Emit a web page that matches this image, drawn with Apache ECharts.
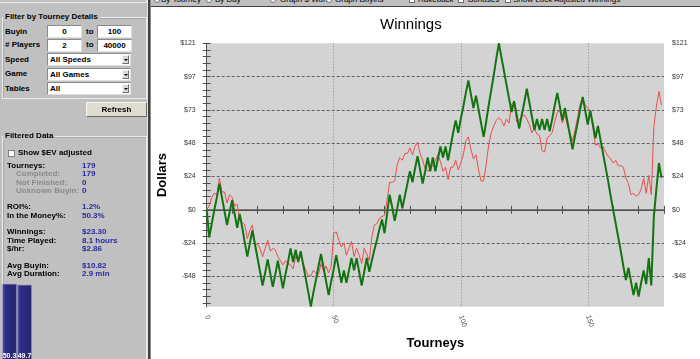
<!DOCTYPE html>
<html>
<head>
<meta charset="utf-8">
<script src="https://cdn.jsdelivr.net/npm/echarts@6/dist/echarts.min.js"></script>
<style>
  html, body { margin:0; padding:0; width:700px; height:359px; overflow:hidden; background:#fff; }
  #chart { position:absolute; left:0; top:0; width:700px; height:359px; z-index:1; }
  #panel { position:absolute; left:0; top:0; width:147px; height:359px; background:#c0c0c0; z-index:2;
           font-family:"Liberation Sans", Arial, sans-serif; font-size:8px; font-weight:bold; color:#000; }
  #panel div, #panel span { position:absolute; white-space:nowrap; }
  .lbl { line-height:10px; height:10px; }
  .gray { color:#8a8a8a; }
  .val { color:#2a2aa0; }
  .box { background:#fff; border:1px solid #8a8a8a; border-right-color:#e0e0e0; border-bottom-color:#e0e0e0; box-sizing:border-box; text-align:center; line-height:11px; }
  .combo { background:#fff; border:1px solid #8a8a8a; border-right-color:#e0e0e0; border-bottom-color:#e0e0e0; box-sizing:border-box; line-height:11px; padding-left:2px; }
  .drop { right:1px; top:1px; width:7px; height:9px; background:#d8d8d8; border:1px solid #f4f4f4; border-right-color:#707070; border-bottom-color:#707070; box-sizing:border-box; }
  .drop::after { content:""; position:absolute; left:1px; top:3px; border-left:2px solid transparent; border-right:2px solid transparent; border-top:2px solid #000; }
  .group { border:1px solid #eaeaea; box-shadow: inset 1px 1px 0 #a8a8a8; box-sizing:border-box; }
  .gtitle { background:#c0c0c0; padding:0 2px; line-height:10px; }
  #splitter { position:absolute; left:147px; top:0; width:4px; height:359px; z-index:3;
              background:linear-gradient(to right, #e4e4e4 0 1px, #404040 1px 3px, #8c8c8c 3px 4px); }
  #topbar { position:absolute; left:151px; top:0; width:549px; height:6px; background:#c0c0c0; border-bottom:1px solid #404040; overflow:hidden; z-index:3;
            font-family:"Liberation Sans", Arial, sans-serif; font-size:8px; color:#000; }
  #topbar span { position:absolute; top:-5px; line-height:10px; white-space:nowrap; }
  #topbar .radio { width:6px; height:6px; border-radius:50%; background:#fff; border:1px solid #707070; top:-3px; box-sizing:border-box; }
  #topbar .chk { width:6px; height:6px; background:#fff; border:1px solid #707070; top:-3px; box-sizing:border-box; }
  #mini { position:absolute; left:1px; top:283px; width:32px; height:77px; z-index:4; }
</style>
</head>
<body>
<div id="chart"></div>
<div id="splitter"></div>
<div id="topbar">
  <span class="radio" style="left:3px"></span><span style="left:10px">By Tourney</span>
  <span class="radio" style="left:55px"></span><span style="left:64px">By Day</span>
  <span class="radio" style="left:119px;background:#fff"></span><span style="left:129px">Graph $ Won</span>
  <span class="radio" style="left:175px"></span><span style="left:184px">Graph Buyins</span>
  <span class="chk" style="left:258px"></span><span style="left:267px">Rakeback</span>
  <span class="chk" style="left:307px"></span><span style="left:317px">Bonuses</span>
  <span class="chk" style="left:354px"></span><span style="left:362px">Show Luck Adjusted Winnings</span>
</div>
<div id="panel">
  <div style="left:0;top:0;width:147px;height:3px;border-bottom:1px solid #eaeaea;border-right:1px solid #eaeaea;box-sizing:border-box;"></div>

  <div class="group" style="left:2px;top:17px;width:145px;height:82px;"></div>
  <div class="gtitle" style="left:3px;top:12px;">Filter by Tourney Details</div>
  <div class="lbl" style="left:5px;top:27px;">Buyin</div>
  <div class="box" style="left:47px;top:25px;width:35px;height:13px;">0</div>
  <div class="lbl" style="left:86px;top:27px;">to</div>
  <div class="box" style="left:97px;top:25px;width:35px;height:13px;">100</div>
  <div class="lbl" style="left:5px;top:40px;"># Players</div>
  <div class="box" style="left:47px;top:39px;width:35px;height:13px;">2</div>
  <div class="lbl" style="left:86px;top:40px;">to</div>
  <div class="box" style="left:97px;top:39px;width:35px;height:13px;">40000</div>
  <div class="lbl" style="left:5px;top:55px;">Speed</div>
  <div class="combo" style="left:47px;top:53px;width:84px;height:13px;">All Speeds<div class="drop"></div></div>
  <div class="lbl" style="left:5px;top:69px;">Game</div>
  <div class="combo" style="left:47px;top:68px;width:84px;height:13px;">All Games<div class="drop"></div></div>
  <div class="lbl" style="left:5px;top:84px;">Tables</div>
  <div class="combo" style="left:47px;top:82px;width:84px;height:13px;">All<div class="drop"></div></div>
  <div style="left:86px;top:102px;width:61px;height:15px;background:#dedbd0;border:1px solid #f8f8f0;border-right-color:#6a6a60;border-bottom-color:#6a6a60;box-sizing:border-box;text-align:center;line-height:13px;">Refresh</div>

  <div class="group" style="left:2px;top:136px;width:145px;height:240px;"></div>
  <div class="gtitle" style="left:3px;top:131px;">Filtered Data</div>
  <div style="left:8px;top:150px;width:7px;height:7px;background:#fff;border:1px solid #808080;box-sizing:border-box;"></div>
  <div class="lbl" style="left:18px;top:148px;">Show $EV adjusted</div>

  <div class="lbl" style="left:7px;top:161px;">Tourneys:</div><div class="lbl val" style="left:82px;top:161px;">179</div>
  <div class="lbl gray" style="left:16px;top:169px;">Completed:</div><div class="lbl val" style="left:82px;top:169px;">179</div>
  <div class="lbl gray" style="left:16px;top:178px;">Not Finished:</div><div class="lbl val" style="left:82px;top:178px;">0</div>
  <div class="lbl gray" style="left:16px;top:186px;">Unknown Buyin:</div><div class="lbl val" style="left:82px;top:186px;">0</div>

  <div class="lbl" style="left:7px;top:202px;">ROI%:</div><div class="lbl val" style="left:82px;top:202px;">1.2%</div>
  <div class="lbl" style="left:7px;top:211px;">In the Money%:</div><div class="lbl val" style="left:82px;top:211px;">50.3%</div>

  <div class="lbl" style="left:7px;top:227px;">Winnings:</div><div class="lbl val" style="left:82px;top:227px;">$23.30</div>
  <div class="lbl" style="left:7px;top:236px;">Time Played:</div><div class="lbl val" style="left:82px;top:236px;">8.1 hours</div>
  <div class="lbl" style="left:7px;top:244px;">$/hr:</div><div class="lbl val" style="left:82px;top:244px;">$2.86</div>

  <div class="lbl" style="left:7px;top:261px;">Avg Buyin:</div><div class="lbl val" style="left:82px;top:261px;">$10.82</div>
  <div class="lbl" style="left:7px;top:269px;">Avg Duration:</div><div class="lbl val" style="left:82px;top:269px;">2.9 min</div>
</div>
<div id="mini"></div>
<script>
// ---- data ----
const winnings = [
  0, -20, -10, 0, 9, 19, 9, -1, -11, -2,
  7, -3, -13, -3, -13, -24, -34, -24, -15, -25,
  -35, -45, -55, -46, -36, -46, -56, -47, -37, -47,
  -57, -47, -38, -28, -38, -29, -38, -30, -40, -50,
  -60, -70.4, -60, -51, -41, -32, -42, -52, -62, -52,
  -43, -33, -43, -53, -44, -53, -44, -35, -44, -35,
  -45, -55, -45, -35, -45, -37, -29, -22, -14, -7,
  -17, -3, 11, 2, -8, 1, 11, 1, 10, 19,
  28, 20, 30, 39, 29, 19, 28, 38, 28, 38,
  28, 37, 46, 38, 46, 36, 46, 56, 65, 56,
  66, 75, 85, 94, 84, 74, 83, 73, 63, 53,
  64, 76, 87, 98, 110, 121, 111, 101, 91, 81,
  71, 79, 69, 59, 69, 78, 88, 78, 68, 58,
  66, 58, 66, 58, 66, 57, 66, 76, 85, 75,
  65, 74, 64, 54, 44, 54, 63, 73, 82, 72,
  62, 72, 62, 52, 61, 51, 41, 31, 21, 10,
  0, -10, -20, -30, -41, -51, -42, -52, -62, -53,
  -63, -53, -44, -54, -35, -55, -5, 15, 34, 23.3
];
const luckAdjusted = [
  0, 3, 9, 12, 11, 23, 13, 13, 5, 11,
  9, 3, 4, -7, -9, -11, -21, -15, -11, -25,
  -25, -28, -34, -28, -22, -30, -28, -29, -34, -37,
  -40, -37, -39, -40, -43, -34, -37, -34, -39, -44,
  -48, -48, -44, -46, -47, -39, -45, -41, -46, -41,
  -17, -16, -22, -27, -24, -33, -28, -23, -34, -28,
  -33, -39, -28, -32, -37, -20, -11, -10, -6, -5,
  -4, 7, 20, 20, 21, 33, 38, 36, 41, 41,
  45, 40, 46, 49, 41, 36, 30, 28, 30, 32,
  36, 40, 35, 28, 31, 22, 31, 31, 36, 29,
  34, 40, 50, 53, 44, 37, 40, 29, 21, 21,
  33, 47, 56, 61, 65, 67, 65, 61, 66, 63,
  77, 78, 64, 65, 68, 69, 66, 62, 56, 59,
  55, 54, 43, 42, 52, 54, 56, 64, 71, 72,
  63, 69, 61, 56, 50, 58, 67, 77, 81, 76,
  74, 72, 60, 47, 48, 45, 46, 42, 39, 37,
  34, 36, 32, 32, 31, 23, 19, 11, 12, 10,
  11, 15, 23, 12, 25, 11, 60, 75, 86, 76
];
const yMin = -70.4, yMax = 121;
const yMajorTicks = [121, 96.8, 72.6, 48.4, 24.2, 0, -24.2, -48.4];
const yGridTicks = [96.8, 72.6, 48.4, 24.2, -24.2, -48.4];
const xMin = 0, xMax = 180, xTickStep = 10;
const xLabelTicks = [0, 50, 100, 150];
const xGridTicks = [50, 100, 150];
const itmCategories = ['ITM', 'OTM'];
const itmValues = [50.3, 49.7];

// minor ticks: 5 subdivisions of each major step
const yAllTicks = [];
for (let i = 0; i < 40; i++) {
  const v = +(yMax - i * 4.84).toFixed(2);
  if (v >= yMin) yAllTicks.push(v);
}
const money = v => (v < 0 ? '-' : '') + '$' + Math.round(Math.abs(v));
const axisColor = '#505050';
const font = '"Liberation Sans", Arial, sans-serif';

const chart = echarts.init(document.getElementById('chart'), null, {renderer: 'canvas'});
chart.setOption({
  animation: false,
  textStyle: {fontFamily: font},
  title: {text: 'Winnings', left: 380, top: 17, padding: 0,
          textStyle: {fontSize: 15, fontWeight: 'normal', color: '#000', fontFamily: font}},
  grid: {left: 206.7, right: 36, top: 43.3, bottom: 52.3, show: true, backgroundColor: '#d3d3d3', borderWidth: 0},
  xAxis: [
    {type: 'value', position: 'bottom', min: xMin, max: xMax, interval: xTickStep,
     axisLine: {show: true, lineStyle: {color: axisColor}},
     axisTick: {show: true, length: 4, lineStyle: {color: axisColor}},
     axisLabel: {formatter: v => xLabelTicks.includes(v) ? String(v) : '', rotate: -70, fontSize: 7, color: '#333', margin: 9},
     splitLine: {show: false},
     name: 'Tourneys', nameLocation: 'middle', nameGap: 30,
     nameTextStyle: {fontSize: 13, fontWeight: 'bold', color: '#000'}},
    {type: 'value', position: 'top', min: xMin, max: xMax, interval: xTickStep,
     axisLine: {show: true, lineStyle: {color: axisColor}},
     axisTick: {show: true, length: 4, lineStyle: {color: axisColor}},
     axisLabel: {show: false}, splitLine: {show: false}},
    {type: 'value', position: 'bottom', min: xMin, max: xMax,
     axisLine: {show: false}, axisTick: {show: false, customValues: xGridTicks},
     axisLabel: {show: false},
     splitLine: {show: true, lineStyle: {color: '#8a8a8a', type: [1, 2], width: 1}}}
  ],
  yAxis: [
    {type: 'value', position: 'left', min: yMin, max: yMax,
     axisLine: {show: true, lineStyle: {color: axisColor}},
     axisTick: {show: true, length: 4, customValues: yAllTicks, lineStyle: {color: axisColor}},
     axisLabel: {customValues: yMajorTicks, formatter: money, fontSize: 7, color: '#333', margin: 11},
     splitLine: {show: false},
     name: 'Dollars', nameLocation: 'middle', nameGap: 31.5,
     nameTextStyle: {fontSize: 13, fontWeight: 'bold', color: '#000'}},
    {type: 'value', position: 'right', min: yMin, max: yMax,
     axisLine: {show: true, lineStyle: {color: axisColor}},
     axisTick: {show: true, length: 4, customValues: yAllTicks, lineStyle: {color: axisColor}},
     axisLabel: {customValues: yMajorTicks, formatter: money, fontSize: 7, color: '#333', margin: 8},
     splitLine: {show: false}},
    {type: 'value', position: 'left', min: yMin, max: yMax,
     axisLine: {show: false}, axisTick: {show: false, customValues: yGridTicks},
     axisLabel: {show: false},
     splitLine: {show: true, lineStyle: {color: '#606060', type: [3, 2], width: 1}}},
    {type: 'value', position: 'left', min: yMin, max: yMax,
     axisLine: {show: false}, axisTick: {show: false, customValues: [0]},
     axisLabel: {show: false},
     splitLine: {show: true, lineStyle: {color: '#7a7a7a', type: 'solid', width: 2}}}
  ],
  series: [
    {name: 'Luck Adjusted', type: 'line', xAxisIndex: 0, yAxisIndex: 0,
     data: luckAdjusted.map((v, i) => [i, v]), showSymbol: false, symbol: 'none',
     lineStyle: {color: '#f04c4c', width: 1}, clip: false, z: 3, silent: true},
    {name: 'Winnings', type: 'line', xAxisIndex: 0, yAxisIndex: 0,
     data: winnings.map((v, i) => [i, v]), showSymbol: false, symbol: 'none',
     lineStyle: {color: '#137313', width: 2}, clip: false, z: 4, silent: true}
  ]
});

const mini = echarts.init(document.getElementById('mini'), null, {renderer: 'canvas'});
mini.setOption({
  animation: false,
  grid: {left: 1, right: 1, top: 1, bottom: 0},
  xAxis: {type: 'category', data: itmCategories, show: false},
  yAxis: {type: 'value', min: 0, max: 50.3, show: false},
  series: [{
    type: 'bar', data: itmValues, barCategoryGap: '6%',
    itemStyle: {color: new echarts.graphic.LinearGradient(0, 0, 1, 0, [
      {offset: 0, color: '#5656b4'}, {offset: 0.2, color: '#2e2e88'}, {offset: 1, color: '#24246e'}]),
      borderColor: '#6a6ab0', borderWidth: 0.5},
    label: {show: true, position: 'insideBottom', distance: 0, color: '#fff', fontSize: 7, fontWeight: 'bold',
            fontFamily: font, formatter: p => p.value.toFixed(1)}
  }]
});
</script>
</body>
</html>
